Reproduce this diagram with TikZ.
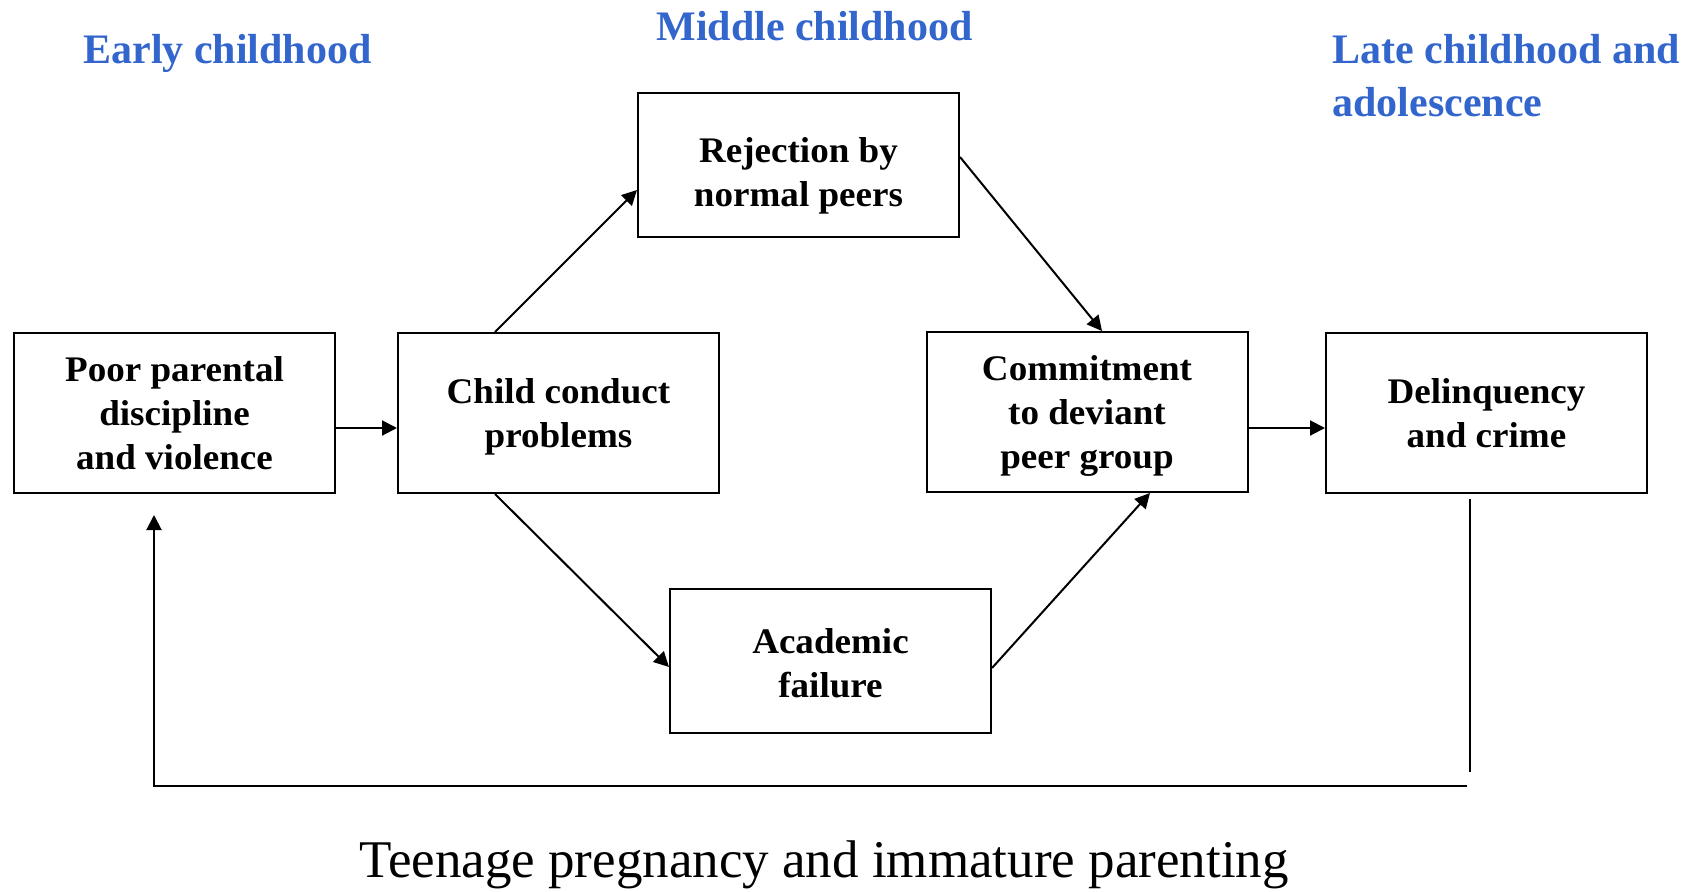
\documentclass[tikz,border=0pt]{standalone}
\usepackage{fontspec}
\setmainfont{Liberation Serif}
\usepackage{graphicx}
\usetikzlibrary{arrows.meta,calc}
\definecolor{headblue}{RGB}{51,102,204}
\newcommand\boxtext[2][-2pt]{\raisebox{#1}[\height][\depth]{\scalebox{1.03}[1]{\begin{tabular}{@{}c@{}}#2\end{tabular}}}}
\tikzset{
  stagebox/.style={draw, line width=1pt, inner sep=0pt, minimum width=160.5pt, minimum height=80pt,
    font=\fontsize{18pt}{22pt}\selectfont\bfseries},
  shortbox/.style={stagebox, minimum height=72pt},
  head/.style={inner sep=0pt, text=headblue, font=\fontsize{21pt}{26.5pt}\selectfont\bfseries},
  link/.style={line width=1pt},
  conn/.style={link, -{Triangle[length=7.5pt,width=7.5pt]}}
}
\begin{document}
\begin{tikzpicture}[x=0.5pt,y=-0.5pt]
\path[use as bounding box] (0,0) rectangle (1688,891);

% headings
\node[head, anchor=base west] (h1) at (83,63) {Early childhood};
\node[head, anchor=base west] (h2) at (656,40) {Middle childhood};
\node[head, anchor=base west] (h3) at (1332,63) {\begin{tabular}[t]{@{}l@{}}Late childhood and\\adolescence\end{tabular}};

% boxes
\node[stagebox] (p1) at (174.5,413) {\boxtext{Poor parental\\discipline\\and violence}};
\node[stagebox] (p2) at (558.5,413) {\boxtext{Child conduct\\problems}};
\node[shortbox] (rej) at (798.5,165) {\boxtext[-5.5pt]{Rejection by\\normal peers}};
\node[shortbox] (acad) at (830.5,661) {\boxtext[-3pt]{Academic\\failure}};
\node[stagebox] (com) at (1087,412) {\boxtext{Commitment\\to deviant\\peer group}};
\node[stagebox] (del) at (1486.5,413) {\boxtext{Delinquency\\and crime}};

% connectors
\draw[conn] ($(p1.east)+(0,15)$) -- ($(p2.west)+(0,15)$);
\draw[conn] ($(p2.north)+(-63.5,0)$) -- ($(rej.west)+(0,25)$);
\draw[conn] ($(p2.south)+(-63.5,0)$) -- ($(acad.west)+(0,6)$);
\draw[conn] ($(rej.east)+(0,-8)$) -- ($(com.north)+(15,0)$);
\draw[conn] ($(acad.east)+(0,7)$) -- ($(com.south)+(63,0)$);
\draw[conn] ($(com.east)+(0,16)$) -- ($(del.west)+(0,15)$);

% feedback loop
\coordinate (fb1) at ($(del.south)+(-16.5,5)$);
\coordinate (fb2) at (1470,772);
\coordinate (fb3) at (1467,786);
\coordinate (fb4) at (154,786);
\coordinate (fb5) at ($(p1.south)+(-20.5,21)$);
\draw[link] (fb1) -- (fb2);
\draw[conn] (fb3) -- (fb4) -- (fb5);

% bottom caption
\node[inner sep=0pt, anchor=base] (tp) at (824,877)
  {\fontsize{26.5pt}{32pt}\selectfont Teenage pregnancy and immature parenting};
\end{tikzpicture}
\end{document}
